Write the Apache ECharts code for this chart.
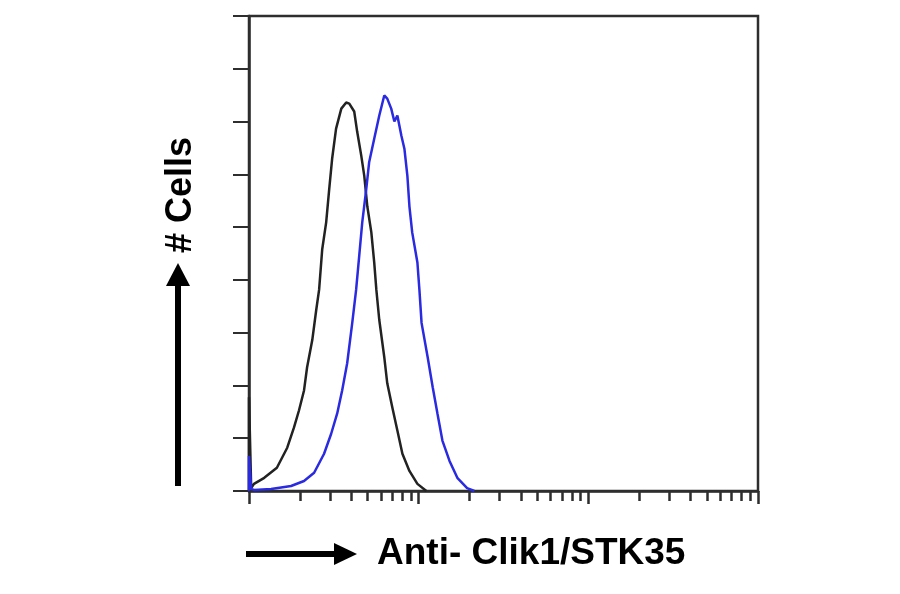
<!DOCTYPE html>
<html>
<head>
<meta charset="utf-8">
<script src="https://cdn.jsdelivr.net/npm/echarts@6.0.0/dist/echarts.min.js"></script>
<style>
  html, body { margin: 0; padding: 0; background: #fff; }
  #chart { width: 900px; height: 594px; }
</style>
</head>
<body>
<div id="chart"></div>
<script>
// control (black) histogram: fluorescence intensity / cell count
const controlX = [1, 1, 1.03, 1.07, 1.23, 1.46, 1.68, 1.84, 1.97, 2.11, 2.2, 2.36, 2.49, 2.59, 2.7, 2.85, 2.97, 3.09, 3.26, 3.5, 3.74, 3.9, 4.17, 4.34, 4.59, 4.78, 4.98, 5.26, 5.47, 5.63, 5.86, 6.27, 6.53, 6.99, 7.49, 8.02, 8.82, 9.83, 11.1];
const controlY = [0, 35.5, 1.1, 2.7, 5.0, 8.8, 16.4, 24.0, 30.5, 38.1, 46.9, 57.2, 68.6, 76.3, 91.5, 101.8, 114.4, 125.9, 137.3, 144.9, 147.2, 146.8, 143.8, 136.2, 127.0, 119.4, 107.9, 98.0, 86.6, 76.3, 64.8, 50.7, 40.8, 31.7, 22.9, 14.1, 7.6, 2.7, 0];

// Anti-Clik1/STK35 stained (blue) histogram
const stainedX = [1, 1, 1.03, 1.07, 1.35, 1.77, 2.11, 2.42, 2.77, 3.05, 3.31, 3.54, 3.79, 4.06, 4.28, 4.46, 4.65, 4.91, 5.11, 5.47, 5.86, 6.27, 6.53, 6.89, 7.19, 7.49, 7.91, 8.24, 8.58, 8.82, 9.16, 9.83, 10.1, 10.4, 11.3, 12.1, 12.9, 13.8, 15.2, 16.9, 19.3, 21.3];
const stainedY = [0, 13.3, 0.8, 0.4, 0.8, 1.9, 3.8, 6.9, 14.1, 21.7, 29.4, 38.1, 48.4, 63.7, 76.3, 88.9, 101.8, 114.4, 124.7, 133.5, 142.3, 149.9, 148.7, 144.9, 140.0, 142.3, 134.6, 129.7, 119.4, 107.9, 98.0, 86.6, 76.3, 63.7, 50.7, 39.3, 29.4, 19.1, 11.4, 5.0, 1.1, 0];

// log axis ticks
const majorTicks = [1, 10, 100, 1000];
const minorTicks = [2, 3, 4, 5, 6, 7, 8, 9, 20, 30, 40, 50, 60, 70, 80, 90, 200, 300, 400, 500, 600, 700, 800, 900];

const xLabel = 'Anti- Clik1/STK35';
const yLabel = '# Cells';

const chart = echarts.init(document.getElementById('chart'));

function pairs(xs, ys) {
  return xs.map((x, i) => [x, ys[i]]);
}

const axisColor = '#2e2e2e';

const option = {
  animation: false,
  backgroundColor: '#fff',
  grid: {
    left: 249, right: 142, top: 16, bottom: 103,
    show: true, borderColor: axisColor, borderWidth: 2.5
  },
  xAxis: [
    {
      type: 'log', logBase: 10, min: 1, max: 1000,
      axisLine: { show: true, lineStyle: { color: axisColor, width: 2.5 } },
      axisTick: { show: true, inside: false, length: 13, customValues: majorTicks,
        lineStyle: { color: axisColor, width: 2.5 } },
      axisLabel: { show: false },
      splitLine: { show: false }
    },
    {
      type: 'log', logBase: 10, min: 1, max: 1000, position: 'bottom',
      axisLine: { show: false },
      axisTick: { show: true, inside: false, length: 10, customValues: minorTicks,
        lineStyle: { color: axisColor, width: 2.5 } },
      axisLabel: { show: false },
      splitLine: { show: false }
    }
  ],
  yAxis: {
    type: 'value', min: 0, max: 180, interval: 20,
    axisLine: { show: true, lineStyle: { color: axisColor, width: 2.5 } },
    axisTick: { show: true, inside: false, length: 16, lineStyle: { color: axisColor, width: 2 } },
    axisLabel: { show: false },
    splitLine: { show: false }
  },
  series: [
    {
      name: 'control', type: 'line', xAxisIndex: 0,
      data: pairs(controlX, controlY),
      showSymbol: false, smooth: false,
      lineStyle: { color: '#222', width: 2.5 }
    },
    {
      name: 'stained', type: 'line', xAxisIndex: 0,
      data: pairs(stainedX, stainedY),
      showSymbol: false, smooth: false,
      lineStyle: { color: '#2a2ae0', width: 2.5 }
    }
  ],
  graphic: [
    // y arrow
    { type: 'line', shape: { x1: 178, y1: 486, x2: 178, y2: 280 },
      style: { stroke: '#000', lineWidth: 6 } },
    { type: 'polygon', shape: { points: [[178, 263], [166, 286], [190, 286]] },
      style: { fill: '#000' } },
    { type: 'text', x: 181, y: 195, rotation: Math.PI / 2,
      style: { text: yLabel, font: 'bold 36px "Liberation Sans", Arial, sans-serif',
        fill: '#000', align: 'center', verticalAlign: 'middle' } },
    // x arrow
    { type: 'line', shape: { x1: 246, y1: 554, x2: 338, y2: 554 },
      style: { stroke: '#000', lineWidth: 6 } },
    { type: 'polygon', shape: { points: [[357, 554], [334, 543], [334, 565]] },
      style: { fill: '#000' } },
    { type: 'text', x: 377, y: 554,
      style: { text: xLabel, font: 'bold 37px "Liberation Sans", Arial, sans-serif',
        fill: '#000', align: 'left', verticalAlign: 'middle' } }
  ]
};

chart.setOption(option);
</script>
</body>
</html>
